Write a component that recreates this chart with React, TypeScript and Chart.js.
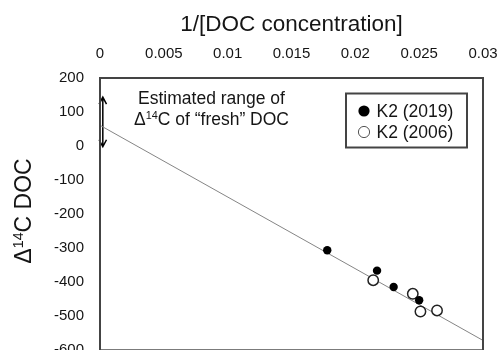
import React, { useEffect, useRef } from "react";
import { Chart, registerables } from "chart.js";

Chart.register(...registerables);

// ---- Data ----
const k2_2019_x = [0.0178, 0.0217, 0.0230, 0.0250];
const k2_2019_y = [-306, -366, -414, -453];
const k2_2006_x = [0.0214, 0.0245, 0.0251, 0.0264];
const k2_2006_y = [-394, -434, -486, -483];
const fitX = [0, 0.03];
const fitY = [61, -571];
const freshRangeX = [0.00022];
const freshRangeY = [-2, 144];
const xTicks = [0, 0.005, 0.01, 0.015, 0.02, 0.025, 0.03];
const yTicks = [200, 100, 0, -100, -200, -300, -400, -500, -600];
const legendLabels = ["K2 (2019)", "K2 (2006)"];
const annotationLines = ["Estimated range of", "of \u201cfresh\u201d DOC"];

const FONT = "'Liberation Sans', Arial, sans-serif";
const TXT = "#151515";

function drawSup(ctx: CanvasRenderingContext2D, parts: [string, boolean][], size: number, x: number, y: number, align: "center" | "left") {
  let total = 0;
  const widths: number[] = [];
  for (const [t, sup] of parts) {
    ctx.font = `${sup ? size * 0.62 : size}px ${FONT}`;
    const w = ctx.measureText(t).width;
    widths.push(w);
    total += w;
  }
  let cx = align === "center" ? x - total / 2 : x;
  ctx.textAlign = "left";
  ctx.textBaseline = "alphabetic";
  parts.forEach(([t, sup], i) => {
    ctx.font = `${sup ? size * 0.62 : size}px ${FONT}`;
    ctx.fillText(t, cx, sup ? y - size * 0.36 : y);
    cx += widths[i];
  });
}

const zeroPad = (s: any) => {
  s.paddingLeft = 0;
  s.paddingRight = 0;
  s.paddingTop = 0;
  s.paddingBottom = 0;
};

const customPlugin = {
  id: "custom",
  beforeDatasetsDraw(chart: any) {
    const { ctx, chartArea, scales } = chart;
    const xs = scales.x, ys = scales.y;
    ctx.save();
    // arrow
    const ax = xs.getPixelForValue(freshRangeX[0]);
    const y1 = ys.getPixelForValue(freshRangeY[1]);
    const y0 = ys.getPixelForValue(freshRangeY[0]);
    ctx.strokeStyle = "#000";
    ctx.lineWidth = 1.5;
    ctx.beginPath();
    ctx.moveTo(ax, y1);
    ctx.lineTo(ax, y0);
    ctx.moveTo(ax - 3.7, y1 + 7);
    ctx.lineTo(ax, y1);
    ctx.lineTo(ax + 3.7, y1 + 7);
    ctx.moveTo(ax - 3.7, y0 - 7);
    ctx.lineTo(ax, y0);
    ctx.lineTo(ax + 3.7, y0 - 7);
    ctx.stroke();

    // annotation
    ctx.fillStyle = TXT;
    const cx = chartArea.left + 111.5;
    ctx.font = `17.5px ${FONT}`;
    ctx.textAlign = "center";
    ctx.textBaseline = "alphabetic";
    ctx.fillText(annotationLines[0], cx, chartArea.top + 26);
    drawSup(ctx, [["\u0394", false], ["14", true], ["C " + annotationLines[1], false]], 17.5, cx, chartArea.top + 47, "center");

    // y title
    ctx.save();
    ctx.translate(23, 211);
    ctx.rotate(-Math.PI / 2);
    ctx.fillStyle = TXT;
    drawSup(ctx, [["\u0394", false], ["14", true], ["C DOC", false]], 23, 0, 8, "center");
    ctx.restore();
    ctx.restore();
  },
  afterDatasetsDraw(chart: any) {
    const { ctx, chartArea } = chart;
    ctx.save();
    // plot border
    ctx.strokeStyle = "#444";
    ctx.lineWidth = 2;
    ctx.strokeRect(chartArea.left, chartArea.top, chartArea.right - chartArea.left, chartArea.bottom - chartArea.top);

    // legend
    const lx = chartArea.left + 246, ly = chartArea.top + 15.5;
    const lw = 121, lh = 54;
    ctx.fillStyle = "#fff";
    ctx.fillRect(lx, ly, lw, lh);
    ctx.strokeStyle = "#444";
    ctx.lineWidth = 2;
    ctx.strokeRect(lx, ly, lw, lh);
    const ds = chart.data.datasets;
    [0, 1].forEach((i) => {
      const my = ly + 17.5 + i * 21;
      const mx = lx + 18;
      ctx.beginPath();
      ctx.arc(mx, my, 5.6, 0, Math.PI * 2);
      ctx.fillStyle = ds[i].backgroundColor;
      ctx.fill();
      if (i === 1) {
        ctx.lineWidth = 1;
        ctx.strokeStyle = "#555";
        ctx.stroke();
      }
      ctx.fillStyle = TXT;
      ctx.font = `17.5px ${FONT}`;
      ctx.textAlign = "left";
      ctx.textBaseline = "middle";
      ctx.fillText(legendLabels[i], lx + 30.5, my + 1);
    });
    ctx.restore();
  },
};

export default function App() {
  const ref = useRef<HTMLCanvasElement>(null);
  useEffect(() => {
    if (!ref.current) return;
    const chart = new Chart(ref.current, {
      type: "scatter",
      data: {
        datasets: [
          {
            label: legendLabels[0],
            data: k2_2019_x.map((x, i) => ({ x, y: k2_2019_y[i] })),
            backgroundColor: "#000",
            borderColor: "#000",
            borderWidth: 0,
            pointRadius: 4.2,
          },
          {
            label: legendLabels[1],
            data: k2_2006_x.map((x, i) => ({ x, y: k2_2006_y[i] })),
            backgroundColor: "#fff",
            borderColor: "#222",
            borderWidth: 1.5,
            pointRadius: 5.2,
          },
          {
            type: "line",
            label: "fit",
            data: fitX.map((x, i) => ({ x, y: fitY[i] })),
            borderColor: "#858585",
            borderWidth: 1,
            pointRadius: 0,
            fill: false,
          } as any,
        ],
      },
      options: {
        animation: false,
        responsive: false,
        maintainAspectRatio: false,
        layout: { padding: { left: 0, top: 0, right: 16, bottom: 0 } },
        plugins: { legend: { display: false }, tooltip: { enabled: false } },
        scales: {
          x: {
            type: "linear",
            position: "top",
            min: 0,
            max: 0.03,
            grid: { display: false, drawTicks: false },
            border: { display: false },
            afterFit: (s: any) => { s.height = 78; zeroPad(s); },
            afterBuildTicks: (s: any) => { s.ticks = xTicks.map((v) => ({ value: v })); },
            ticks: {
              padding: 15,
              color: TXT,
              font: { family: FONT, size: 15 },
              callback: (v: any) => String(Number(v)),
              maxRotation: 0,
              autoSkip: false,
            },
            title: {
              display: true,
              text: "1/[DOC concentration]",
              color: TXT,
              font: { family: FONT, size: 22.5 },
              padding: { top: 11, bottom: 0 },
            },
          },
          y: {
            type: "linear",
            min: -600,
            max: 200,
            grid: { display: false, drawTicks: false },
            border: { display: false },
            afterFit: (s: any) => { s.width = 100; zeroPad(s); },
            afterBuildTicks: (s: any) => { s.ticks = yTicks.map((v) => ({ value: v })); },
            ticks: {
              padding: 16,
              color: TXT,
              font: { family: FONT, size: 15 },
              autoSkip: false,
            },
          },
        },
      },
      plugins: [customPlugin],
    });
    return () => chart.destroy();
  }, []);
  return (
    <div style={{ position: "fixed", left: 0, top: 0, width: 499, height: 350, overflow: "hidden", background: "#fff" }}>
      <canvas ref={ref} width={499} height={357} style={{ width: 499, height: 357, display: "block" }} />
    </div>
  );
}
